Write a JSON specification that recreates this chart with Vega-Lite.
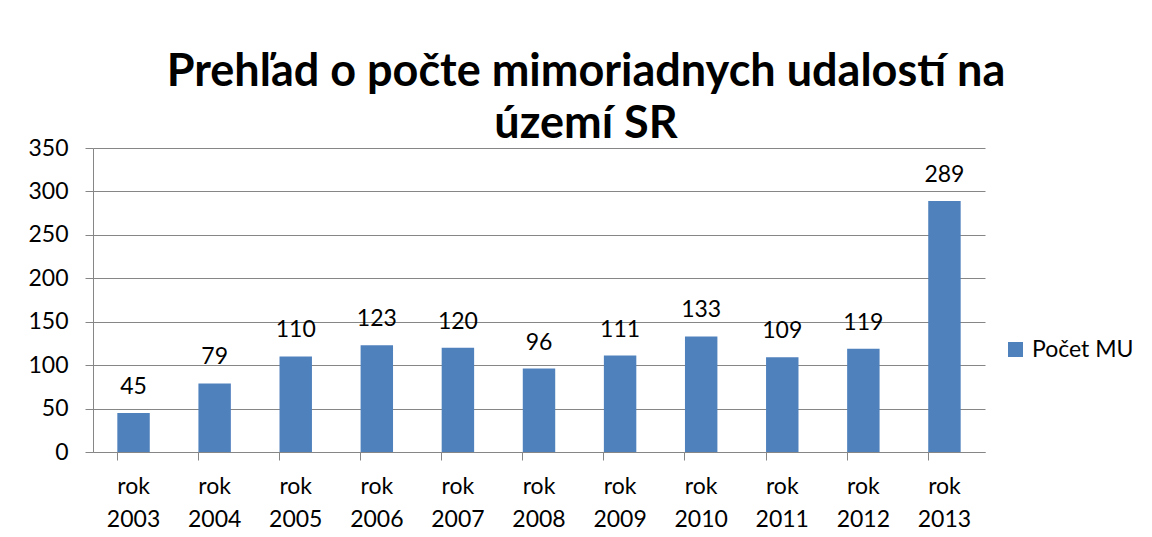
{
  "$schema": "https://vega.github.io/schema/vega-lite/v6.json",
  "autosize": {"type": "none"},
  "width": 892,
  "height": 304,
  "padding": {"left": 93, "top": 148, "right": 167, "bottom": 85},
  "background": "white",
  "title": {
    "text": ["Prehľad o počte mimoriadnych udalostí na", "území SR"],
    "font": "Lato",
    "fontSize": 45,
    "fontWeight": "bold",
    "color": "#000000",
    "anchor": "middle",
    "frame": "group",
    "dx": 47,
    "lineHeight": 52,
    "offset": -10
  },
  "data": {
    "values": [
      {"rok": "rok 2003", "pocet": 45},
      {"rok": "rok 2004", "pocet": 79},
      {"rok": "rok 2005", "pocet": 110},
      {"rok": "rok 2006", "pocet": 123},
      {"rok": "rok 2007", "pocet": 120},
      {"rok": "rok 2008", "pocet": 96},
      {"rok": "rok 2009", "pocet": 111},
      {"rok": "rok 2010", "pocet": 133},
      {"rok": "rok 2011", "pocet": 109},
      {"rok": "rok 2012", "pocet": 119},
      {"rok": "rok 2013", "pocet": 289}
    ]
  },
  "encoding": {
    "x": {
      "field": "rok",
      "type": "nominal",
      "sort": null,
      "scale": {"paddingInner": 0.6, "paddingOuter": 0.3},
      "axis": {
        "title": null,
        "labelAngle": 0,
        "labelExpr": "split(datum.label, ' ')",
        "labelFont": "Lato",
        "labelFontSize": 23,
        "labelColor": "#000000",
        "labelLineHeight": 33,
        "labelPadding": 15,
        "labelBaseline": "top",
        "domainColor": "#868686",
        "tickColor": "#868686",
        "tickSize": 8,
        "bandPosition": 0,
        "grid": false
      }
    },
    "y": {
      "field": "pocet",
      "type": "quantitative",
      "scale": {"domain": [0, 350], "nice": false},
      "axis": {
        "title": null,
        "values": [0, 50, 100, 150, 200, 250, 300, 350],
        "labelFont": "Lato",
        "labelFontSize": 23,
        "labelColor": "#000000",
        "labelPadding": 17,
        "domainColor": "#868686",
        "tickColor": "#868686",
        "tickSize": 8,
        "grid": true,
        "gridColor": "#868686",
        "gridWidth": 1
      }
    }
  },
  "layer": [
    {
      "mark": {"type": "bar"},
      "encoding": {
        "color": {
          "datum": "Počet MU",
          "type": "nominal",
          "scale": {"range": ["#4F81BD"]},
          "legend": {
            "title": null,
            "orient": "none",
            "legendX": 911,
            "legendY": 190,
            "padding": 0,
            "symbolType": "square",
            "symbolSize": 225,
            "symbolStrokeWidth": 0,
            "labelFont": "Lato",
            "labelFontSize": 23,
            "labelColor": "#000000",
            "labelOffset": 5
          }
        }
      }
    },
    {
      "mark": {"type": "text", "baseline": "alphabetic", "dy": -19, "font": "Lato", "fontSize": 23, "color": "#000000"},
      "encoding": {
        "text": {"field": "pocet", "type": "quantitative"}
      }
    }
  ],
  "config": {
    "view": {"stroke": null}
  }
}
